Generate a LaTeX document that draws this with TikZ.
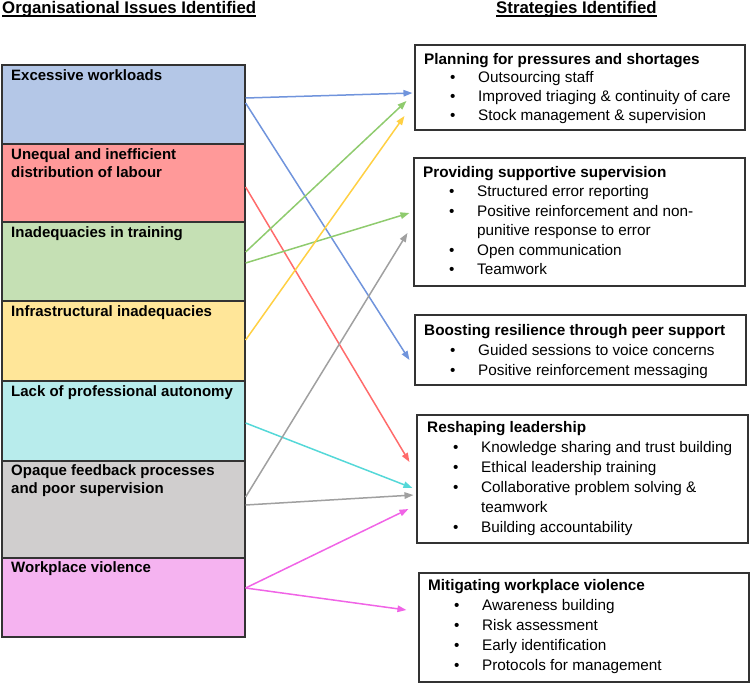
\documentclass[tikz,border=0pt]{standalone}
\usepackage{fontspec}
\setmainfont{Liberation Sans}
\usetikzlibrary{arrows.meta}
\definecolor{fBlue}{HTML}{B4C7E7}
\definecolor{fRed}{HTML}{FF9999}
\definecolor{fGreen}{HTML}{C5E0B4}
\definecolor{fYellow}{HTML}{FFE699}
\definecolor{fCyan}{HTML}{B8ECEC}
\definecolor{fGray}{HTML}{D0CECE}
\definecolor{fPink}{HTML}{F5B3F0}
\definecolor{aBlue}{HTML}{7094DC}
\definecolor{aGreen}{HTML}{8FCB6E}
\definecolor{aYellow}{HTML}{FFD043}
\definecolor{aRed}{HTML}{FF6B6B}
\definecolor{aGray}{HTML}{A0A0A0}
\definecolor{aCyan}{HTML}{55D8D8}
\definecolor{aPink}{HTML}{F064E6}
\definecolor{edge}{HTML}{333333}
\newcommand\bitem[1]{\par\hspace*{26pt}\makebox[28pt][l]{\textbullet}#1}
\newcommand\bcont[1]{\par\hspace*{54pt}#1}
\tikzset{
  issue/.style={draw=edge, line width=1.2pt, rectangle, minimum width=243pt, inner sep=0pt},
  strat/.style={draw=edge, line width=1.1pt, rectangle, fill=white, inner sep=0pt},
  txt/.style={anchor=base west, inner sep=0pt, font=\fontsize{15}{18}\selectfont},
  head/.style={anchor=base west, inner sep=0pt, font=\fontsize{16.8}{20}\selectfont\bfseries},
  uline/.style={line width=1.4pt, black},
  link/.style={line width=1.5pt, -{Triangle[length=9pt,width=6.5pt]}},
}
\begin{document}
\begin{tikzpicture}[x=1pt,y=-1pt]
\useasboundingbox (0,0) rectangle (750,683);
% titles
\node[head] (h1) at (2,13.5) {Organisational Issues Identified};
\node[head] (h2) at (496,13.5) {Strategies Identified};
\draw[uline] ([yshift=-2.6pt]h1.base west) -- ([yshift=-2.6pt]h1.base east);
\draw[uline] ([yshift=-2.6pt]h2.base west) -- ([yshift=-2.6pt]h2.base east);
% issue boxes
\node[issue, fill=fBlue,   minimum height=79pt] (b1) at (123.5,104.5) {};
\node[issue, fill=fRed,    minimum height=78pt] (b2) at (123.5,183) {};
\node[issue, fill=fGreen,  minimum height=79pt] (b3) at (123.5,261.5) {};
\node[issue, fill=fYellow, minimum height=80pt] (b4) at (123.5,341) {};
\node[issue, fill=fCyan,   minimum height=80pt] (b5) at (123.5,421) {};
\node[issue, fill=fGray,   minimum height=97pt] (b6) at (123.5,509.5) {};
\node[issue, fill=fPink,   minimum height=79pt] (b7) at (123.5,597.5) {};
\node[txt] (l1) at (11,80) {\bfseries Excessive workloads};
\node[txt] (l2) at (11,159) {\parbox[t]{230pt}{\bfseries Unequal and inefficient\par distribution of labour}};
\node[txt] (l3) at (11,237) {\bfseries Inadequacies in training};
\node[txt] (l4) at (11,316) {\bfseries Infrastructural inadequacies};
\node[txt] (l5) at (11,396) {\bfseries Lack of professional autonomy};
\node[txt] (l6) at (11,475) {\parbox[t]{230pt}{\bfseries Opaque feedback processes\par and poor supervision}};
\node[txt] (l7) at (11,572) {\bfseries Workplace violence};
% strategy boxes
\node[strat, minimum width=330pt, minimum height=85pt]  (r1) at (580,87.5) {};
\node[strat, minimum width=331pt, minimum height=128pt] (r2) at (579.5,222) {};
\node[strat, minimum width=331pt, minimum height=70pt]  (r3) at (580.5,350) {};
\node[strat, minimum width=331pt, minimum height=128pt] (r4) at (582.5,479) {};
\node[strat, minimum width=330pt, minimum height=109pt] (r5) at (584,627.5) {};
\node[txt] (s1) at (424,64) {\parbox[t]{320pt}{\fontsize{15.3}{18.7}\selectfont
  \textbf{Planning for pressures and shortages}
  \bitem{Outsourcing staff}
  \bitem{Improved triaging \& continuity of care}
  \bitem{Stock management \& supervision}}};
\node[txt] (s2) at (423,177) {\parbox[t]{320pt}{\fontsize{15.3}{19.5}\selectfont
  \textbf{Providing supportive supervision}
  \bitem{Structured error reporting}
  \bitem{Positive reinforcement and non-}
  \bcont{punitive response to error}
  \bitem{Open communication}
  \bitem{Teamwork}}};
\node[txt] (s3) at (424,335) {\parbox[t]{320pt}{\fontsize{15.3}{20}\selectfont
  \textbf{Boosting resilience through peer support}
  \bitem{Guided sessions to voice concerns}
  \bitem{Positive reinforcement messaging}}};
\node[txt] (s4) at (427,432) {\parbox[t]{320pt}{\fontsize{15.3}{20}\selectfont
  \textbf{Reshaping leadership}
  \bitem{Knowledge sharing and trust building}
  \bitem{Ethical leadership training}
  \bitem{Collaborative problem solving \&}
  \bcont{teamwork}
  \bitem{Building accountability}}};
\node[txt] (s5) at (428,590) {\parbox[t]{320pt}{\fontsize{15.3}{20}\selectfont
  \textbf{Mitigating workplace violence}
  \bitem{Awareness building}
  \bitem{Risk assessment}
  \bitem{Early identification}
  \bitem{Protocols for management}}};
% connectors
\draw[link, aBlue]   ([yshift=6.5pt]b1.east)  -- ([xshift=-2pt,yshift=-5.5pt]r1.west);
\draw[link, aBlue]   ([yshift=1.5pt]b1.east)  -- ([xshift=-5pt,yshift=-10pt]r3.west);
\draw[link, aRed]    ([yshift=-4pt]b2.east)   -- ([xshift=-7pt,yshift=17pt]r4.west);
\draw[link, aGreen]  ([yshift=9.5pt]b3.east)  -- ([xshift=-8pt,yshift=-13.5pt]r1.west);
\draw[link, aGreen]  ([yshift=-1.5pt]b3.east) -- ([xshift=-4pt,yshift=9pt]r2.west);
\draw[link, aYellow] ([yshift=1pt]b4.east)    -- ([xshift=-10pt,yshift=-28.5pt]r1.west);
\draw[link, aCyan]   ([yshift=-2pt]b5.east)   -- ([xshift=-4pt,yshift=-9pt]r4.west);
\draw[link, aGray]   ([yshift=12.5pt]b6.east) -- ([xshift=-6pt,yshift=-11pt]r2.west);
\draw[link, aGray]   ([yshift=4.5pt]b6.east)  -- ([xshift=-3pt,yshift=-16pt]r4.west);
\draw[link, aPink]   ([yshift=9.5pt]b7.east)  -- ([xshift=-8pt,yshift=-30pt]r4.west);
\draw[link, aPink]   ([yshift=9.5pt]b7.east)  -- ([xshift=-12pt,yshift=17.5pt]r5.west);
\end{tikzpicture}
\end{document}
